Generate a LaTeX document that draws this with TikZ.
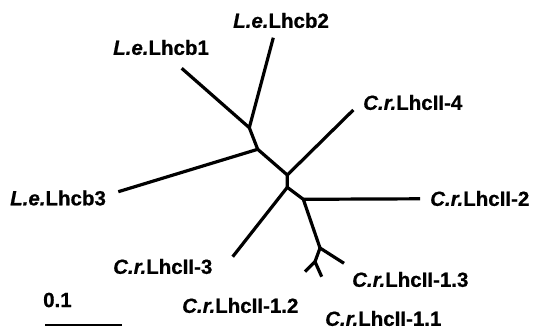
\documentclass[tikz,border=0pt]{standalone}
\usepackage{fontspec}
\setmainfont{Liberation Sans}[BoldFeatures={FakeBold=0.7},BoldItalicFeatures={FakeBold=0.7}]
\newcommand{\genus}[1]{\textit{#1}}
\begin{document}
\begin{tikzpicture}[x=1pt,y=-1pt,
  branch/.style={line width=3.2pt,line join=round},
  taxon/.style={inner sep=0pt,anchor=west,font=\fontsize{20.5}{22}\selectfont\bfseries}]
\useasboundingbox (0,0) rectangle (534,329);

% internal nodes of the tree
\coordinate (A) at (249.3,127.7);
\coordinate (B) at (257.7,149.3);
\coordinate (C) at (287.3,175);
\coordinate (D) at (287.3,187.3);
\coordinate (E) at (303.3,199.3);
\coordinate (F) at (320,248);
\coordinate (G) at (315,261.7);

% tips
\coordinate (t1) at (181.7,68.3);
\coordinate (t2) at (273.3,37.7);
\coordinate (t3) at (118.3,191.7);
\coordinate (t4) at (353.3,110);
\coordinate (t5) at (420,198.8);
\coordinate (t6) at (232.7,256.7);
\coordinate (t7) at (344,263.3);
\coordinate (t8) at (305,271.7);
\coordinate (t9) at (321.7,276.7);

% branches
\draw[branch] (t1) -- (A) -- (t2);
\draw[branch] (A) -- (B) -- (C) -- (D) -- (E) -- (F) -- (G);
\draw[branch] (B) -- (t3);
\draw[branch] (C) -- (t4);
\draw[branch] (E) -- (t5);
\draw[branch] (D) -- (t6);
\draw[branch] (F) -- (t7);
\draw[branch] (t8) -- (G) -- (t9);

% taxon labels
\node[taxon] (n1) at (113,47.5) {\genus{L.e.}Lhcb1};
\node[taxon] (n2) at (233,20.5) {\genus{L.e.}Lhcb2};
\node[taxon] (n3) at (10,198) {\genus{L.e.}Lhcb3};
\node[taxon] (n4) at (363,102.5) {\genus{C.r.}LhcII-4};
\node[taxon] (n5) at (430,198.5) {\genus{C.r.}LhcII-2};
\node[taxon] (n6) at (113,266.5) {\genus{C.r.}LhcII-3};
\node[taxon] (n7) at (352,279.5) {\genus{C.r.}LhcII-1.3};
\node[taxon] (n8) at (182,305.5) {\genus{C.r.}LhcII-1.2};
\node[taxon] (n9) at (325,318.5) {\genus{C.r.}LhcII-1.1};

% scale bar
\coordinate (s1) at (45,325);
\coordinate (s2) at (122,325);
\draw[line width=2.6pt] (s1) -- (s2);
\node[taxon] (sl) at (43,300) {0.1};
\end{tikzpicture}
\end{document}
